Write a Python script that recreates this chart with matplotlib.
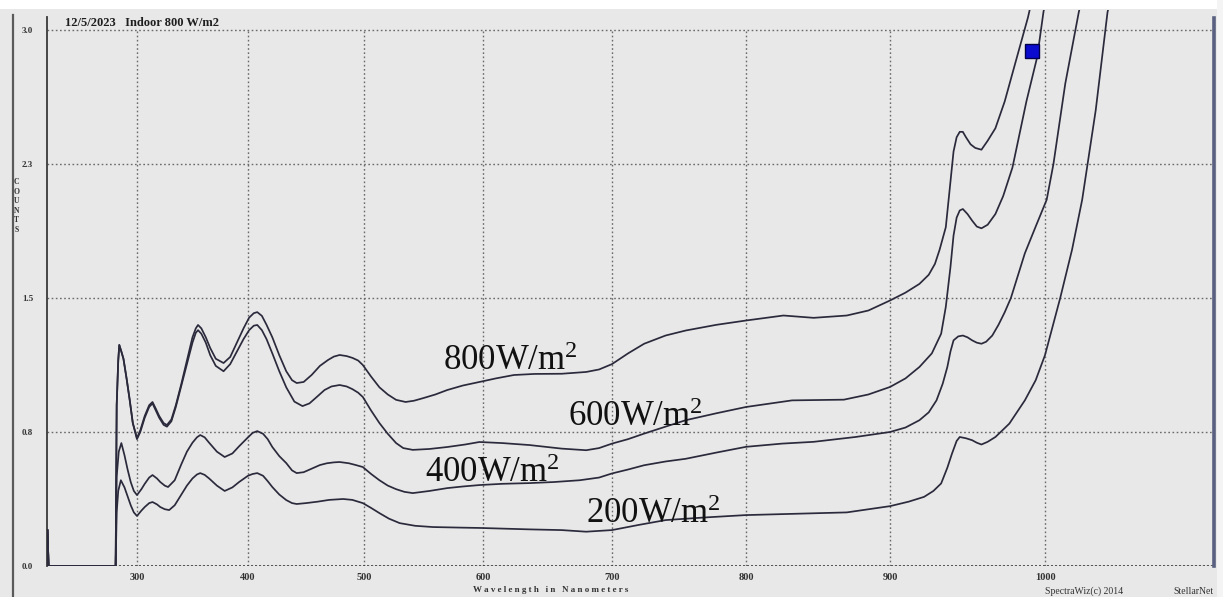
import numpy as np
import matplotlib
matplotlib.use("Agg")
import matplotlib.pyplot as plt
from matplotlib.patches import Rectangle
from matplotlib.lines import Line2D

# ---------------- data ----------------
W800 = [214, 215, 279.5, 280.5, 282, 283, 285, 287, 290, 293, 296, 300,
        303, 307, 311, 314, 317, 320, 324, 327, 331, 335, 340, 345, 350, 353, 355,
        358, 362, 366, 371, 378, 384, 390, 396, 401, 405, 408, 412, 416, 421, 427,
        433, 438, 442, 448, 455, 462, 469, 474, 479, 485, 490, 495, 499, 506, 513,
        520, 527, 535, 542, 550, 560, 570, 583, 597, 610, 624, 640, 661, 680, 690,
        700, 712, 724, 740, 755, 778, 800, 826, 847, 870, 885, 900, 910, 919, 925,
        929, 932, 936, 939, 941, 943, 945, 947, 949, 952, 955, 959, 963, 968, 974,
        981, 989, 995]
V800 = [0.2, 0.0, 0.0, 0.9, 1.15, 1.237, 1.2, 1.16, 1.05, 0.93, 0.8, 0.716,
        0.76, 0.84, 0.9, 0.918, 0.88, 0.84, 0.80, 0.789, 0.82, 0.9, 1.02, 1.15, 1.28, 1.33, 1.349,
        1.33, 1.28, 1.22, 1.16, 1.136, 1.17, 1.25, 1.33, 1.39, 1.415, 1.421, 1.40, 1.35, 1.28, 1.18,
        1.09, 1.04, 1.024, 1.03, 1.07, 1.12, 1.153, 1.172, 1.181, 1.175, 1.165, 1.15, 1.125, 1.06, 1.0,
        0.96, 0.93, 0.918, 0.925, 0.94, 0.96, 0.985, 1.01, 1.03, 1.05, 1.069, 1.075, 1.076, 1.086, 1.10,
        1.13, 1.19, 1.244, 1.29, 1.318, 1.35, 1.374, 1.402, 1.389, 1.402, 1.43, 1.486, 1.53, 1.579, 1.63,
        1.691, 1.77, 1.896, 2.15, 2.32, 2.40, 2.43, 2.43, 2.40, 2.36, 2.34, 2.33, 2.38, 2.45, 2.60,
        2.82, 3.07, 3.3]

W600 = [214, 215, 279.5, 280.5, 282, 283, 285, 287, 290, 293, 296, 300,
        303, 307, 311, 314, 317, 320, 324, 327, 331, 335, 340, 345, 350, 353, 355,
        358, 362, 366, 371, 378, 384, 390, 396, 401, 405, 408, 412, 416, 421, 427,
        433, 440, 447, 453, 460, 466, 472, 479, 485, 490, 495, 499, 506, 513, 520,
        527, 533, 541, 555, 570, 585, 597, 615, 636, 661, 680, 690, 700, 712, 724,
        740, 755, 778, 800, 832, 868, 885, 900, 910, 919, 927, 933, 936, 939, 941,
        943, 945, 947, 950, 953, 956, 959, 963, 968, 973, 979, 988, 995, 999, 1003]
V600 = [0.2, 0.0, 0.0, 0.9, 1.15, 1.237, 1.2, 1.16, 1.05, 0.93, 0.8, 0.71,
        0.75, 0.83, 0.89, 0.91, 0.87, 0.83, 0.79, 0.78, 0.81, 0.89, 1.01, 1.13, 1.25, 1.305, 1.32,
        1.30, 1.25, 1.18, 1.12, 1.09, 1.13, 1.2, 1.27, 1.32, 1.345, 1.349, 1.32, 1.27, 1.19, 1.09,
        1.0, 0.92, 0.895, 0.91, 0.95, 0.985, 1.005, 1.013, 1.005, 0.99, 0.97, 0.946, 0.87, 0.80, 0.74,
        0.688, 0.66, 0.65, 0.655, 0.666, 0.68, 0.694, 0.688, 0.677, 0.657, 0.648, 0.66, 0.685, 0.71, 0.741,
        0.78, 0.816, 0.855, 0.89, 0.927, 0.931, 0.96, 1.002, 1.05, 1.114, 1.19, 1.30, 1.45, 1.672, 1.85,
        1.95, 1.99, 1.998, 1.97, 1.933, 1.90, 1.89, 1.91, 1.97, 2.07, 2.23, 2.6, 2.85, 3.1, 3.3]

W400 = [214, 215, 279.5, 280.5, 282.5, 285, 288, 291, 294, 297, 300,
        304, 307, 311, 314, 318, 321, 325, 328, 334, 340, 345, 350, 354, 357,
        361, 365, 372, 379, 386, 392, 400, 404, 408, 413, 417, 421, 427, 433,
        438, 442, 448, 455, 462, 468, 474, 479, 487, 493, 499, 506, 513, 520,
        527, 534, 541, 555, 570, 583, 597, 615, 636, 655, 675, 690, 700, 712,
        724, 740, 755, 778, 800, 825, 847, 876, 900, 910, 919, 925, 930, 934,
        937, 939, 941, 944, 947, 950, 953, 956, 959, 962, 966, 970, 974, 978,
        987, 994, 1001, 1005, 1012, 1020, 1025]
V400 = [0.2, 0.0, 0.0, 0.5, 0.64, 0.688, 0.62, 0.54, 0.47, 0.42, 0.397,
        0.43, 0.46, 0.495, 0.509, 0.49, 0.47, 0.45, 0.442, 0.48, 0.57, 0.64, 0.69, 0.72, 0.733,
        0.72, 0.69, 0.64, 0.61, 0.63, 0.67, 0.72, 0.745, 0.755, 0.74, 0.71, 0.666, 0.615, 0.576,
        0.535, 0.52, 0.525, 0.545, 0.565, 0.575, 0.58, 0.582, 0.575, 0.565, 0.554, 0.515, 0.48, 0.45,
        0.43, 0.415, 0.408, 0.42, 0.436, 0.445, 0.453, 0.46, 0.464, 0.47, 0.48, 0.495, 0.518, 0.54,
        0.564, 0.585, 0.60, 0.635, 0.667, 0.685, 0.695, 0.722, 0.75, 0.775, 0.816, 0.86, 0.927, 1.02,
        1.114, 1.2, 1.263, 1.285, 1.29, 1.28, 1.263, 1.25, 1.244, 1.255, 1.29, 1.35, 1.42, 1.5,
        1.75, 1.9, 2.05, 2.25, 2.7, 3.1, 3.3]

W200 = [214, 215, 279.5, 280.5, 282, 284.5, 288, 291, 294, 297, 300,
        304, 307, 311, 314, 318, 321, 325, 329, 334, 340, 345, 350, 354, 357,
        361, 365, 372, 379, 386, 392, 400, 404, 408, 413, 417, 421, 427, 433,
        438, 442, 450, 460, 470, 482, 490, 499, 506, 513, 521, 530, 543, 558,
        580, 597, 636, 661, 680, 700, 720, 740, 770, 800, 870, 900, 912, 922,
        928, 933, 937, 940, 943, 945, 949, 953, 956, 959, 963, 968, 972, 977,
        987, 994, 1000, 1009, 1016, 1022, 1030, 1037, 1042]
V200 = [0.2, 0.0, 0.0, 0.3, 0.42, 0.48, 0.44, 0.39, 0.34, 0.30, 0.28,
        0.31, 0.33, 0.352, 0.358, 0.345, 0.33, 0.318, 0.313, 0.34, 0.4, 0.45, 0.49, 0.512, 0.52,
        0.51, 0.49, 0.45, 0.42, 0.44, 0.47, 0.505, 0.515, 0.52, 0.505, 0.475, 0.442, 0.40, 0.369,
        0.352, 0.347, 0.352, 0.36, 0.37, 0.375, 0.37, 0.352, 0.325, 0.296, 0.265, 0.24, 0.225, 0.218,
        0.215, 0.213, 0.205, 0.201, 0.192, 0.201, 0.23, 0.257, 0.272, 0.285, 0.30, 0.335, 0.36, 0.387,
        0.42, 0.462, 0.55, 0.629, 0.70, 0.722, 0.715, 0.704, 0.69, 0.68, 0.695, 0.722, 0.755, 0.797,
        0.927, 1.04, 1.18, 1.5, 1.77, 2.05, 2.55, 3.1, 3.3]

SERIES_LABELS = ["800W/m$^{\\mathrm{2}}$", "600W/m$^{\\mathrm{2}}$",
                 "400W/m$^{\\mathrm{2}}$", "200W/m$^{\\mathrm{2}}$"]

X_TICKS = [300, 400, 500, 600, 700, 800, 900, 1000]
Y_TICKS = [0.0, 0.75, 1.5, 2.25, 3.0]
Y_TICK_LABELS = ["0.0", "0.8", "1.5", "2.3", "3.0"]

CURSOR_WL = [991.5]
CURSOR_VAL = [2.88]

# Instrument's (non-linear) wavelength axis calibration: wavelength -> screen position
AXIS_WL = [200, 300, 400, 500, 600, 700, 800, 900, 1000, 1100]
AXIS_POS = [33, 137, 248, 364, 483, 612, 746, 890, 1045, 1214]


def fwd(x):
    return np.interp(x, AXIS_WL, AXIS_POS)


def inv(p):
    return np.interp(p, AXIS_POS, AXIS_WL)


# ---------------- figure ----------------
plt.rcParams['mathtext.fontset'] = 'custom'
plt.rcParams['mathtext.rm'] = 'Liberation Serif'
plt.rcParams['mathtext.it'] = 'Liberation Serif:italic'
plt.rcParams['mathtext.bf'] = 'Liberation Serif:bold'

W, H = 1223, 597
BG = '#e8e8e8'
fig = plt.figure(figsize=(W / 100, H / 100), dpi=100, facecolor=BG)


def fx(px):
    return px / W


def fy(py):
    return 1 - py / H


# white strip at top and light strip at right
fig.add_artist(Rectangle((0, fy(9)), 1, 9 / H, transform=fig.transFigure,
                         facecolor='white', edgecolor='none', zorder=0))
fig.add_artist(Rectangle((fx(1217), 0), 6 / W, 1, transform=fig.transFigure,
                         facecolor='#f4f4f4', edgecolor='none', zorder=0))
# outer left frame line
fig.add_artist(Line2D([fx(12.5), fx(12.5)], [0, fy(15)], transform=fig.transFigure,
                      color='#5a5a5a', lw=1.6))

unit = 536 / 3.0
ax = fig.add_axes([fx(47), 31 / H, (1214 - 47) / W, (566 - 10) / H])
ax.set_facecolor('none')
ax.set_xscale('function', functions=(fwd, inv))
ax.set_xlim(213.5, 1100)
ax.set_ylim(0, 556 / unit)

for s in ['top', 'bottom']:
    ax.spines[s].set_visible(False)
ax.spines['left'].set_color('#3a3a3a')
ax.spines['left'].set_linewidth(1.3)
ax.spines['left'].set_bounds(0, 549 / unit)
ax.spines['right'].set_color('#596080')
ax.spines['right'].set_linewidth(2.6)
ax.spines['right'].set_bounds(0, 548 / unit)

grid_style = dict(color='#6a6a6a', lw=1.0, ls=(0, (1.2, 1.8)))
ax.set_yticks(Y_TICKS, labels=Y_TICK_LABELS)
ax.set_xticks(X_TICKS, labels=[str(v) for v in X_TICKS])
ax.grid(True, axis='y', **grid_style)
ax.vlines(X_TICKS, 0, 3.0, zorder=1, **grid_style)
ax.axhline(0, color='#3a3a3a', lw=1.2, ls=(0, (1.2, 1.2)), zorder=1)

ax.tick_params(axis='y', length=0, pad=10, labelsize=6.5, labelcolor='#333333')
ax.tick_params(axis='x', length=0, pad=5, labelsize=7.5, labelcolor='#333333')
for lab in ax.get_xticklabels() + ax.get_yticklabels():
    lab.set_fontfamily('Liberation Serif')
    lab.set_fontweight('bold')

line_color = '#2a2a3c'
for wl, vals in [(W800, V800), (W600, V600), (W400, V400), (W200, V200)]:
    ax.plot(wl, vals, color=line_color, lw=1.25, solid_joinstyle='round', zorder=3)

ax.plot(CURSOR_WL, CURSOR_VAL, marker='s', ms=10, mfc='#0b0bd0', mec='#00004a',
        mew=1.0, ls='none', zorder=5)

# curve labels
label_pos = [(443, 370), (568, 426), (425, 482), (586, 523)]
for text, (px, py) in zip(SERIES_LABELS, label_pos):
    fig.text(fx(px), fy(py), text, fontsize=25, family='Liberation Serif',
             color='#111111', ha='left', va='baseline', zorder=6)

# header / axis texts
fig.text(fx(65), fy(26.5), "12/5/2023   Indoor 800 W/m2", fontsize=9,
         family='Liberation Serif', fontweight='bold', color='#1e1e1e',
         ha='left', va='baseline')
fig.text(fx(16.5), fy(206), "C\nO\nU\nN\nT\nS", fontsize=5.5,
         family='Liberation Serif', fontweight='bold', color='#333333',
         ha='center', va='center', linespacing=1.26)
fig.text(fx(551), fy(590), "W a v e l e n g t h   i n   N a n o m e t e r s",
         fontsize=6.5, family='Liberation Serif', fontweight='bold',
         color='#333333', ha='center', va='center')
fig.text(fx(1045), fy(591), "SpectraWiz(c) 2014", fontsize=7,
         family='Liberation Serif', color='#333333', ha='left', va='center')
fig.text(fx(1173), fy(591), "StellarNet", fontsize=7,
         family='Liberation Serif', color='#333333', ha='left', va='center')

fig.savefig('out.png', dpi=100, facecolor=BG)
